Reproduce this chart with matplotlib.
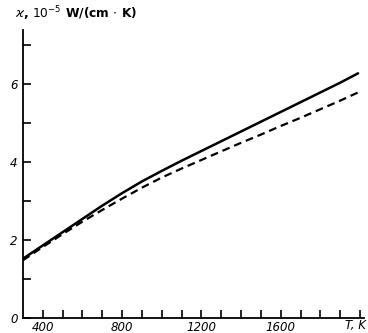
import matplotlib
matplotlib.use('Agg')
import matplotlib.pyplot as plt

# temperature, K
T = [300, 400, 500, 600, 700, 800, 900, 1000, 1100, 1200, 1300, 1400,
     1500, 1600, 1700, 1800, 1900, 1990]
# thermal conductivity, 1e-5 W/(cm K)
kappa_solid = [1.52, 1.86, 2.2, 2.54, 2.88, 3.2, 3.5, 3.77, 4.03, 4.28,
               4.53, 4.78, 5.03, 5.28, 5.53, 5.78, 6.03, 6.27]
kappa_dashed = [1.48, 1.82, 2.15, 2.47, 2.77, 3.06, 3.34, 3.6, 3.83, 4.05,
                4.27, 4.49, 4.7, 4.92, 5.13, 5.35, 5.57, 5.78]

x_ticks = list(range(400, 2001, 100))
x_labels = ['400', '', '', '', '800', '', '', '', '1200', '', '', '',
            '1600', '', '', '', '']
y_ticks = [0, 1, 2, 3, 4, 5, 6, 7]
y_labels = ['0', '', '2', '', '4', '', '6', '']


def main():
    fig = plt.figure(figsize=(3.68, 3.33), dpi=100)
    ax = fig.add_axes([23 / 368, 15 / 333, 341 / 368, 288 / 333])

    ax.plot(T, kappa_solid, color='black', lw=1.8, solid_capstyle='round')
    ax.plot(T, kappa_dashed, color='black', lw=1.6, dashes=(3.5, 2.2))

    ax.set_xlim(300, 2020)
    ax.set_ylim(0, 7.38)
    for s in ['top', 'right']:
        ax.spines[s].set_visible(False)
    for s in ['left', 'bottom']:
        ax.spines[s].set_linewidth(1.3)

    ax.set_xticks(x_ticks)
    ax.set_xticklabels(x_labels, fontstyle='italic', fontsize=8.5)
    ax.set_yticks(y_ticks)
    ax.set_yticklabels(y_labels, fontstyle='italic', fontsize=8.5)
    ax.tick_params(axis='both', direction='in', length=6, width=1.2, pad=2)
    ax.tick_params(axis='y', pad=4)

    fig.text(366 / 368, 1 - 326 / 333, 'T, K', fontstyle='italic',
             fontsize=8.5, ha='right', va='center')
    fig.text(15 / 368, 1 - 14 / 333,
             r'$\varkappa$, $10^{-5}$ W/(cm $\cdot$ K)',
             fontsize=8.8, fontweight='bold', ha='left', va='center')

    fig.savefig('out.png', dpi=100)


if __name__ == "__main__":
    main()
